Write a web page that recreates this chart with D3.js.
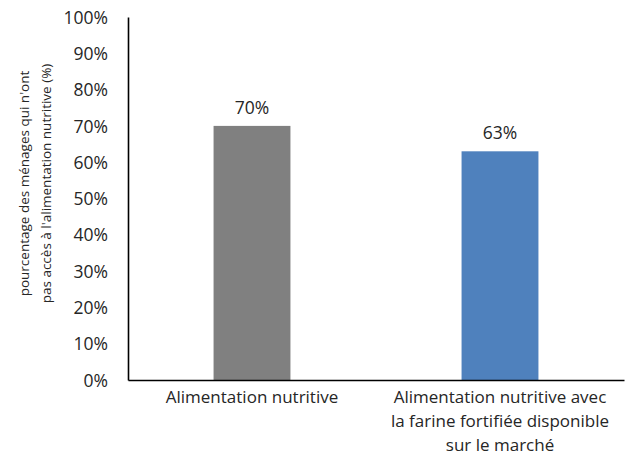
<!DOCTYPE html>
<html>
<head>
<meta charset="utf-8">
<script src="https://cdn.jsdelivr.net/npm/d3@7/dist/d3.min.js"></script>
<style>
  html, body { margin: 0; padding: 0; background: #fff; }
  svg text { font-family: "Open Sans", "Noto Sans", sans-serif; fill: #262626; }
</style>
</head>
<body>
<svg id="chart" width="629" height="470"></svg>
<script>
// Share of households without access to nutritious food
const categories = [
  ["Alimentation nutritive"],
  ["Alimentation nutritive avec", "la farine fortifiée disponible", "sur le marché"]
];
const values = [70, 63];
const barColors = ["#808080", "#4f81bd"];
const yTicks = [0, 10, 20, 30, 40, 50, 60, 70, 80, 90, 100];
const yTitle = ["pourcentage des ménages qui n'ont", "pas accès à l'alimentation nutritive (%)"];

const margin = { left: 128, right: 5, top: 17, bottom: 90 };
const W = 629, H = 470;
const svg = d3.select("#chart");

const x = d3.scaleBand()
  .domain(d3.range(values.length))
  .range([margin.left, W - margin.right])
  .padding(0);
const y = d3.scaleLinear()
  .domain([0, 100])
  .range([H - margin.bottom, margin.top]);

const barW = x.bandwidth() * 0.31;

// bars
svg.append("g").selectAll("rect")
  .data(values)
  .join("rect")
  .attr("x", (d, i) => x(i) + x.bandwidth() / 2 - barW / 2)
  .attr("width", barW)
  .attr("y", d => y(d))
  .attr("height", d => y(0) - y(d))
  .attr("fill", (d, i) => barColors[i]);

// value labels
svg.append("g").selectAll("text")
  .data(values)
  .join("text")
  .attr("x", (d, i) => x(i) + x.bandwidth() / 2)
  .attr("y", d => y(d) - 12)
  .attr("text-anchor", "middle")
  .style("font-size", "17.5px")
  .text(d => d + "%");

// y axis
const yAxis = d3.axisLeft(y)
  .tickValues(yTicks)
  .tickSize(0)
  .tickPadding(20)
  .tickFormat(d => d + "%");
const gy = svg.append("g")
  .attr("transform", `translate(${margin.left},0)`)
  .call(yAxis);
gy.select(".domain").attr("stroke", "#000").attr("stroke-width", 1.6);
gy.selectAll(".tick text")
  .style("font-size", "17.5px")
  .attr("dy", "0.35em");

// x axis
const xAxis = d3.axisBottom(x).tickSize(0).tickFormat("");
const gx = svg.append("g")
  .attr("transform", `translate(0,${y(0)})`)
  .call(xAxis);
gx.select(".domain").attr("stroke", "#000").attr("stroke-width", 1.6);

// category labels (multi-line)
const catG = svg.append("g").selectAll("text")
  .data(categories)
  .join("text")
  .attr("text-anchor", "middle")
  .style("font-size", "17px")
  .attr("transform", (d, i) => `translate(${x(i) + x.bandwidth() / 2},${y(0) + 23})`);
catG.selectAll("tspan")
  .data(d => d)
  .join("tspan")
  .attr("x", 0)
  .attr("y", (d, j) => j * 24)
  .text(d => d);

// y axis title
const yCenter = (y(0) + y(100)) / 2 - 15;
svg.append("text")
  .attr("transform", `translate(29,${yCenter}) rotate(-90)`)
  .attr("text-anchor", "middle")
  .style("font-size", "13.5px")
  .selectAll("tspan")
  .data(yTitle)
  .join("tspan")
  .attr("x", 0)
  .attr("y", (d, j) => j * 22)
  .text(d => d);
</script>
</body>
</html>
